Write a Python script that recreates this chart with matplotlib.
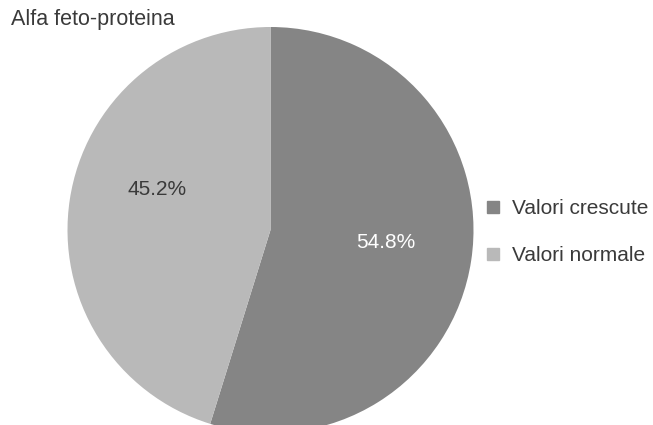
import matplotlib
matplotlib.use("Agg")
import matplotlib.pyplot as plt
from matplotlib.lines import Line2D

plt.rcParams['font.family'] = ['Liberation Sans', 'DejaVu Sans']

title = "Alfa feto-proteina"
categories = ["Valori crescute", "Valori normale"]
values = [54.8, 45.2]
colors = ["#858585", "#b9b9b9"]
text_colors = ["white", "#3a3a3a"]

W, H = 653, 425
fig = plt.figure(figsize=(W / 100, H / 100), dpi=100)
fig.patch.set_facecolor("white")

cx, cy, r = 270.5, 230, 203
ax = fig.add_axes([(cx - r) / W, (H - cy - r) / H, 2 * r / W, 2 * r / H])

wedges, texts, autotexts = ax.pie(values, colors=colors, startangle=90, counterclock=False,
                                  radius=1, autopct="%.1f%%", pctdistance=0.6,
                                  wedgeprops=dict(linewidth=0))
ax.set_xlim(-1, 1)
ax.set_ylim(-1, 1)
ax.set_aspect("equal")
ax.axis("off")
ax.patch.set_visible(False)
for w in wedges:
    w.set_clip_on(False)

label_pos = [((386 - cx) / r, (cy - 243) / r), ((157 - cx) / r, (cy - 190) / r)]
for t, pos, c in zip(autotexts, label_pos, text_colors):
    t.set_position(pos)
    t.set_color(c)
    t.set_fontsize(15)
    t.set_ha("center")
    t.set_va("center")

fig.text(11 / W, 1 - 19 / H, title, fontsize=15.5, color="#3a3a3a", ha="left", va="center")

handles = [Line2D([], [], marker="s", linestyle="none", markersize=9, color=c) for c in colors]
leg = fig.legend(handles, categories, loc="center left", bbox_to_anchor=(487 / W, 1 - 232 / H),
                 frameon=False, fontsize=15, handlelength=0.6, handletextpad=0.6,
                 labelspacing=1.35, borderpad=0, borderaxespad=0)
for t in leg.get_texts():
    t.set_color("#3a3a3a")

fig.savefig("out.png", dpi=100, facecolor="white")
